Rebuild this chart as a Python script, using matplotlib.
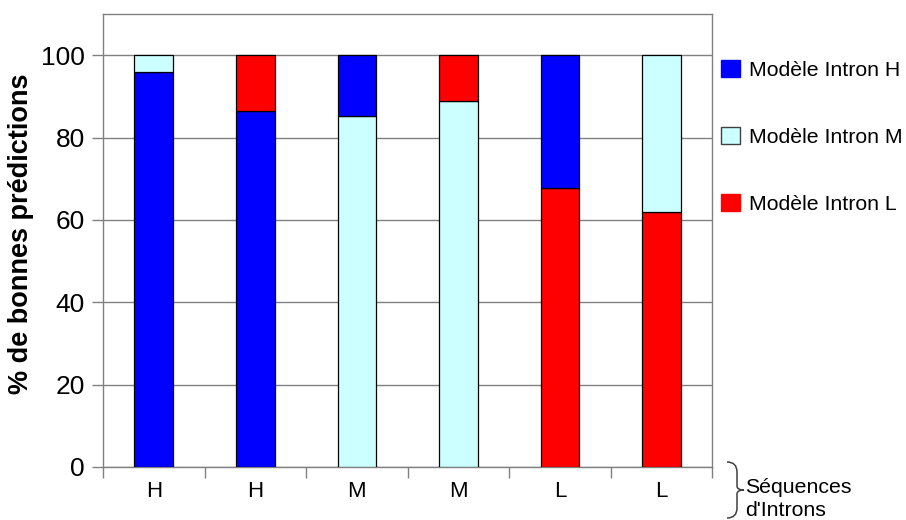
import matplotlib.pyplot as plt
from matplotlib.patches import Patch, PathPatch
from matplotlib.path import Path

plt.rcParams['font.family'] = ['Liberation Sans', 'DejaVu Sans']

sequences = ["H", "H", "M", "M", "L", "L"]
bottom_values = [96, 86.5, 85.3, 89, 67.8, 62]
bottom_models = ["H", "H", "M", "M", "L", "L"]
top_models = ["M", "L", "H", "L", "H", "M"]

model_colors = {"H": "#0000FF", "M": "#CCFFFF", "L": "#FF0000"}
model_labels = {"H": "Modèle Intron H", "M": "Modèle Intron M", "L": "Modèle Intron L"}

W, H = 906, 520
fig = plt.figure(figsize=(W / 100, H / 100), dpi=100)
ax = fig.add_axes([0.1137, 0.102, 0.6723, 0.871])

x = list(range(len(sequences)))
top_values = [100 - v for v in bottom_values]

ax.bar(x, bottom_values, width=0.38,
       color=[model_colors[m] for m in bottom_models],
       edgecolor="black", linewidth=0.9, zorder=3)
ax.bar(x, top_values, width=0.38, bottom=bottom_values,
       color=[model_colors[m] for m in top_models],
       edgecolor="black", linewidth=0.9, zorder=3)

ax.set_xlim(-0.5, len(sequences) - 0.5)
ax.set_ylim(0, 110)
ax.set_yticks([0, 20, 40, 60, 80, 100])
ax.yaxis.grid(True, color="#808080", linewidth=1, zorder=0)
ax.tick_params(axis="y", labelsize=19, length=8, width=1, color="#808080", pad=5)

ax.set_xticks([i - 0.5 for i in range(len(sequences) + 1)])
ax.set_xticklabels([])
ax.set_xticks(x, minor=True)
ax.set_xticklabels(sequences, minor=True)
ax.tick_params(axis="x", which="major", length=8, width=1, color="#808080")
ax.tick_params(axis="x", which="minor", length=0, labelsize=16, pad=10)

for s in ax.spines.values():
    s.set_color("#808080")
    s.set_linewidth(1)

ax.set_ylabel("% de bonnes prédictions", fontsize=19.5, fontweight="bold")
ax.yaxis.set_label_coords(-0.113, 0.515)

handles = [Patch(facecolor=model_colors[k], edgecolor=("#404040" if k == "M" else model_colors[k]),
                 label=model_labels[k]) for k in ["H", "M", "L"]]
fig.legend(handles=handles, loc="upper left", bbox_to_anchor=(0.796, 0.885),
           frameon=False, fontsize=15.3, labelspacing=2.2, handlelength=0.9,
           handleheight=0.9, handletextpad=0.4, borderpad=0, borderaxespad=0)

# curly brace next to the x axis labels
pts = [(727, 462), (737, 462), (737, 472), (737, 486), (737, 490), (744, 490),
       (737, 490), (737, 494), (737, 508), (737, 518), (727, 518)]
codes = [Path.MOVETO, Path.CURVE3, Path.CURVE3, Path.LINETO, Path.CURVE3, Path.CURVE3,
         Path.CURVE3, Path.CURVE3, Path.LINETO, Path.CURVE3, Path.CURVE3]
brace = Path([(px / W, 1 - py / H) for px, py in pts], codes)
fig.add_artist(PathPatch(brace, transform=fig.transFigure, facecolor="none",
                         edgecolor="#404040", linewidth=1.1))

fig.text(0.822, 1 - 499 / H, "Séquences\nd'Introns", fontsize=15.3, va="center", ha="left",
         linespacing=1.3)

fig.savefig("out.png", dpi=100)
